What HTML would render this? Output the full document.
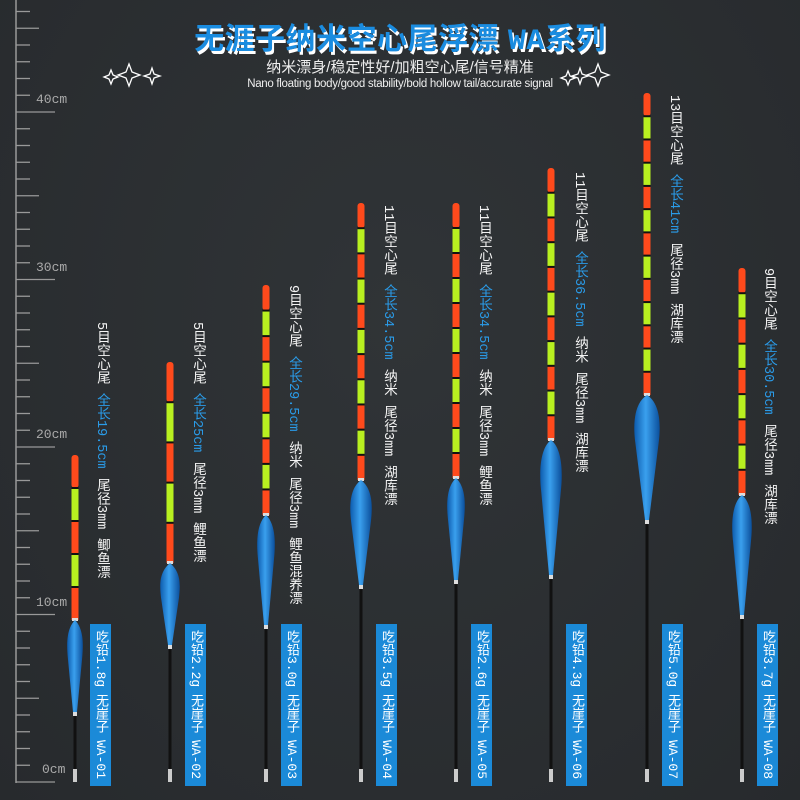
<!DOCTYPE html>
<html><head><meta charset="utf-8"><style>
html,body{margin:0;padding:0;background:#2b2e31;}
#c{position:relative;width:800px;height:800px;overflow:hidden;background:radial-gradient(ellipse at 50% 40%,#303437,#272a2d);font-family:"Liberation Sans","Noto Sans CJK SC",sans-serif;}
.v{position:absolute;writing-mode:vertical-rl;color:#f4f4f4;font-size:13.5px;line-height:15px;white-space:nowrap;font-family:"Liberation Mono","Noto Sans CJK SC",monospace;}
.v span{margin-bottom:9px;display:inline-block}
.b{color:#2a9be8}
.box{position:absolute;top:624px;width:21px;height:162px;background:#1b8ad8;}
.box .v{left:3px;top:6px;color:#fff;font-size:13px}
.box .v span{margin-bottom:7px}
.title{position:absolute;left:0;width:800px;top:14px;text-align:center;font-size:30px;font-weight:bold;color:#1a8ce0;text-shadow:2px 3px 0 #fff;font-family:"Liberation Sans","Noto Sans CJK SC",sans-serif;letter-spacing:0.5px}
.sub{position:absolute;left:0;width:800px;text-align:center;color:#eee}
</style></head><body><div id="c">
<svg id="s" width="800" height="800" style="position:absolute;left:0;top:0">
<defs>
<linearGradient id="bg" x1="0" x2="1"><stop offset="0" stop-color="#0d5cae"/><stop offset="0.45" stop-color="#3aa0ee"/><stop offset="1" stop-color="#0b4f9c"/></linearGradient>
</defs>
<g font-family="Liberation Mono, monospace" font-size="13" fill="#aaa">
<text x="36" y="103">40cm</text>
<text x="36" y="271">30cm</text>
<text x="36" y="438">20cm</text>
<text x="36" y="606">10cm</text>
<text x="42" y="773">0cm</text>
</g>
<g fill="none" stroke="#fff" stroke-width="1.3">
<path d="M126 72 l3 -8 l3 8 l8 3 l-8 3 l-3 8 l-3 -8 l-8 -3z"/>
<path d="M150 74 l2 -6 l2 6 l6 2 l-6 2 l-2 6 l-2 -6 l-6 -2z"/>
<path d="M139 75 l2 -5 l2 5 l5 2 l-5 2 l-2 5 l-2 -5 l-5 -2z" transform="translate(-30 0)"/>
<path d="M595 72 l3 -8 l3 8 l8 3 l-8 3 l-3 8 l-3 -8 l-8 -3z"/>
<path d="M578 74 l2 -6 l2 6 l6 2 l-6 2 l-2 6 l-2 -6 l-6 -2z"/>
<path d="M566 76 l2 -5 l2 5 l5 2 l-5 2 l-2 5 l-2 -5 l-5 -2z"/>
</g>
</svg>
<div class="title">无涯子纳米空心尾浮漂 <span style="font-family:'Liberation Mono',monospace">WA</span>系列</div>
<div class="sub" style="top:56px;font-size:15px">纳米漂身/稳定性好/加粗空心尾/信号精准</div>
<div class="sub" style="top:78px;font-size:11.5px;letter-spacing:-0.3px">Nano floating body/good stability/bold hollow tail/accurate signal</div>

<div class="v" style="left:93px;top:322px"><span>5目空心尾</span><span class="b">全长19.5cm</span><span>尾径3mm</span><span>鲫鱼漂</span></div>
<div class="v" style="left:189px;top:322px"><span>5目空心尾</span><span class="b">全长25cm</span><span>尾径3mm</span><span>鲤鱼漂</span></div>
<div class="v" style="left:285px;top:285px"><span>9目空心尾</span><span class="b">全长29.5cm</span><span>纳米</span><span>尾径3mm</span><span>鲤鱼混养漂</span></div>
<div class="v" style="left:380px;top:205px"><span>11目空心尾</span><span class="b">全长34.5cm</span><span>纳米</span><span>尾径3mm</span><span>湖库漂</span></div>
<div class="v" style="left:475px;top:205px"><span>11目空心尾</span><span class="b">全长34.5cm</span><span>纳米</span><span>尾径3mm</span><span>鲤鱼漂</span></div>
<div class="v" style="left:571px;top:172px"><span>11目空心尾</span><span class="b">全长36.5cm</span><span>纳米</span><span>尾径3mm</span><span>湖库漂</span></div>
<div class="v" style="left:666px;top:95px"><span>13目空心尾</span><span class="b">全长41cm</span><span>尾径3mm</span><span>湖库漂</span></div>
<div class="v" style="left:760px;top:268px"><span>9目空心尾</span><span class="b">全长30.5cm</span><span>尾径3mm</span><span>湖库漂</span></div>

<div class="box" style="left:90px"><div class="v"><span>吃铅1.8g</span><span>无崖子</span><span>WA-01</span></div></div>
<div class="box" style="left:185px"><div class="v"><span>吃铅2.2g</span><span>无崖子</span><span>WA-02</span></div></div>
<div class="box" style="left:281px"><div class="v"><span>吃铅3.0g</span><span>无崖子</span><span>WA-03</span></div></div>
<div class="box" style="left:376px"><div class="v"><span>吃铅3.5g</span><span>无崖子</span><span>WA-04</span></div></div>
<div class="box" style="left:471px"><div class="v"><span>吃铅2.6g</span><span>无崖子</span><span>WA-05</span></div></div>
<div class="box" style="left:566px"><div class="v"><span>吃铅4.3g</span><span>无崖子</span><span>WA-06</span></div></div>
<div class="box" style="left:662px"><div class="v"><span>吃铅5.0g</span><span>无崖子</span><span>WA-07</span></div></div>
<div class="box" style="left:757px"><div class="v"><span>吃铅3.7g</span><span>无崖子</span><span>WA-08</span></div></div>
</div>
<script>
var s=document.getElementById('s'),NS='http://www.w3.org/2000/svg';
function el(t,a){var e=document.createElementNS(NS,t);for(var k in a)e.setAttribute(k,a[k]);s.appendChild(e);return e;}
el('line',{x1:16,y1:0,x2:16,y2:783,stroke:'#999','stroke-width':1.5});
for(var i=0;i<=47;i++){var y=782-i*16.75;if(y<0)break;var L=i%10==0?55:(i%5==0?39:30);
el('line',{x1:16,y1:y,x2:L,y2:y,stroke:'#999','stroke-width':1.3});}
var F=[[75,455,620,712,16,5],[170,362,563,645,20,5],[266,285,515,625,18,9],[361,203,480,585,22,11],[456,203,478,580,18,11],[551,168,440,575,22,11],[647,93,395,520,26,13],[742,268,495,615,20,9]];
F.forEach(function(f){var x=f[0],t=f[1],bt=f[2],bb=f[3],w=f[4],n=f[5];
el('line',{x1:x,y1:bb,x2:x,y2:770,stroke:'#111','stroke-width':3});
el('rect',{x:x-2,y:769,width:4,height:13,fill:'#ccc'});
var h=(bt-t)/n;
for(var k=0;k<n;k++){el('rect',{x:x-3.5,y:t+k*h,width:7,height:h,fill:k%2?'#b8f020':'#ff4a1c',rx:k==0?3:0});
if(k>0)el('rect',{x:x-3.5,y:t+k*h-1,width:7,height:2,fill:'#111'});}
el('rect',{x:x-3,y:bt-2,width:6,height:3,fill:'#ddd'});
var m=bt+(bb-bt)*0.3;
el('path',{d:'M'+x+' '+bt+' C'+(x+w*0.6)+' '+(bt+10)+' '+(x+w*0.5)+' '+m+' '+(x+w*0.45)+' '+(m+10)+' L'+(x+2)+' '+bb+' L'+(x-2)+' '+bb+' L'+(x-w*0.45)+' '+(m+10)+' C'+(x-w*0.5)+' '+m+' '+(x-w*0.6)+' '+(bt+10)+' '+x+' '+bt+'Z',fill:'url(#bg)'});
el('rect',{x:x-2,y:bb,width:4,height:4,fill:'#ddd'});
});
</script>
</body></html>
